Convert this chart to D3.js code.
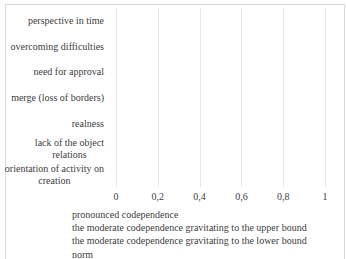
<!DOCTYPE html>
<html>
<head>
<meta charset="utf-8">
<script src="https://cdn.jsdelivr.net/npm/d3@7"></script>
<style>
  body { margin: 0; background: #fff; }
  svg text { font-family: "Liberation Serif", "Times New Roman", "DejaVu Serif", serif; fill: #404040; }
</style>
</head>
<body>
<script>
// categories, top to bottom
const categories = [
  "perspective in time",
  "overcoming difficulties",
  "need for approval",
  "merge (loss of borders)",
  "realness",
  "lack of the object relations",
  "orientation of activity on creation"
]
const seriesNames = [
  "pronounced codependence",
  "the moderate codependence gravitating to the upper bound",
  "the moderate codependence gravitating to the lower bound",
  "norm"
]
// no bars visible in the picture
const pronounced = [0, 0, 0, 0, 0, 0, 0]
const moderateUpper = [0, 0, 0, 0, 0, 0, 0]
const moderateLower = [0, 0, 0, 0, 0, 0, 0]
const norm = [0, 0, 0, 0, 0, 0, 0]
const xTicks = [0, 0.2, 0.4, 0.6, 0.8, 1]

const seriesValues = [pronounced, moderateUpper, moderateLower, norm]
const colors = ["#4472c4", "#ed7d31", "#a5a5a5", "#ffc000"]

const width = 346, height = 259
const margin = { top: 8, right: 21, bottom: 72, left: 116 }
const fontFam = "'Liberation Serif', 'Times New Roman', 'DejaVu Serif', serif"

const svg = d3.select("body").append("svg")
  .attr("width", width)
  .attr("height", height)

// chart border
svg.append("rect")
  .attr("x", 5.5).attr("y", 4.5)
  .attr("width", 339).attr("height", 270)
  .attr("fill", "none")
  .attr("stroke", "#d9d9d9")

const x = d3.scaleLinear()
  .domain([0, 1])
  .range([margin.left, width - margin.right])

const y = d3.scaleBand()
  .domain(categories)
  .range([margin.top, height - margin.bottom])

const ySub = d3.scaleBand()
  .domain(d3.range(seriesNames.length))
  .range([0, y.bandwidth()])
  .padding(0.1)

// gridlines
svg.append("g")
  .selectAll("line")
  .data(xTicks)
  .join("line")
  .attr("x1", d => Math.round(x(d)) + 0.5)
  .attr("x2", d => Math.round(x(d)) + 0.5)
  .attr("y1", margin.top)
  .attr("y2", height - margin.bottom)
  .attr("stroke", "#e6e6e6")

// bars
seriesValues.forEach((vals, s) => {
  svg.append("g")
    .selectAll("rect")
    .data(vals)
    .join("rect")
    .attr("x", x(0))
    .attr("y", (d, i) => y(categories[i]) + ySub(s))
    .attr("width", d => x(d) - x(0))
    .attr("height", ySub.bandwidth())
    .attr("fill", colors[s])
})

// x tick labels
svg.append("g")
  .selectAll("text")
  .data(xTicks)
  .join("text")
  .attr("x", d => x(d))
  .attr("y", height - margin.bottom + 13)
  .attr("text-anchor", "middle")
  .attr("font-family", fontFam)
  .style("font-size", "10px")
  .text(d => d3.format("")(d).replace(".", ","))

// category labels, wrapped like the original
const wrapped = {
  "lack of the object relations": ["lack of the object", "relations"],
  "orientation of activity on creation": ["orientation of activity on", "creation"]
}
const labelRight = margin.left - 12
const catLabels = svg.append("g")
  .selectAll("text")
  .data(categories)
  .join("text")
  .attr("text-anchor", "middle")
  .attr("font-family", fontFam)
  .style("font-size", "10px")

catLabels.each(function (d) {
  const lines = wrapped[d] || [d]
  const t = d3.select(this)
  const cy = y(d) + y.bandwidth() / 2
  lines.forEach((line, i) => {
    t.append("tspan")
      .attr("y", cy + 3.5 + (i - (lines.length - 1) / 2) * 12)
      .text(line)
  })
  // first line ends at labelRight, the rest are centred under it
  const tspans = t.selectAll("tspan").nodes()
  const w0 = tspans[0].getComputedTextLength()
  tspans.forEach(ts => d3.select(ts).attr("x", labelRight - w0 / 2))
})

// legend (markers not visible)
const legend = svg.append("g")
  .selectAll("g")
  .data(seriesNames)
  .join("g")
  .attr("transform", (d, i) => `translate(72, ${214 + i * 13.4})`)

legend.append("text")
  .attr("x", 0)
  .attr("y", 3.5)
  .attr("font-family", fontFam)
  .style("font-size", "10px")
  .text(d => d)
</script>
</body>
</html>
